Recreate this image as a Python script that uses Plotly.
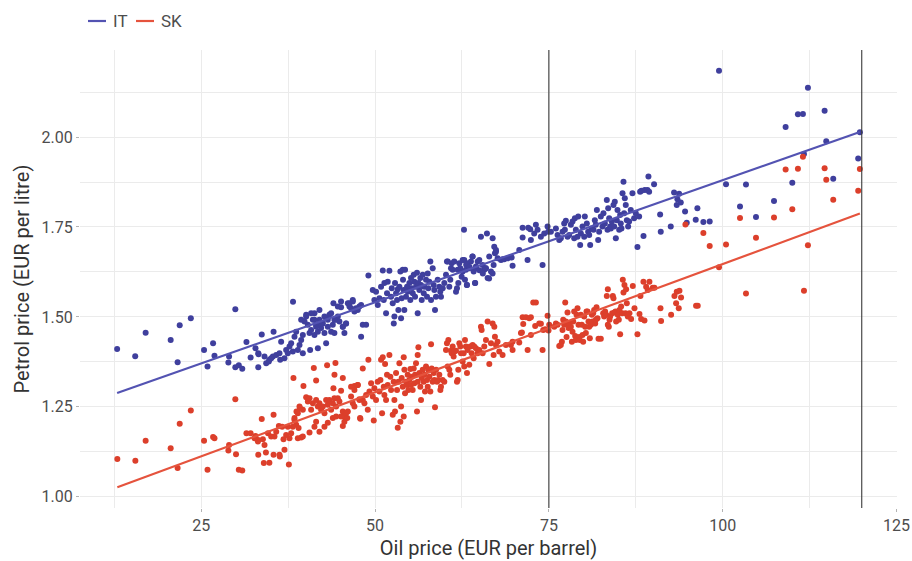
import numpy as np
import plotly.graph_objects as go

# Weekly observations: (oil price in EUR per barrel, petrol price in EUR per litre)
IT_POINTS = [
    (12.9, 1.411), (15.5, 1.391), (17.0, 1.456), (20.6, 1.436), (21.9, 1.477), (23.5, 1.496),
    (21.6, 1.374), (29.9, 1.521), (25.4, 1.408), (26.7, 1.427), (26.9, 1.392), (25.9, 1.362),
    (29.0, 1.390), (28.9, 1.373), (29.9, 1.360), (30.4, 1.366), (30.9, 1.356), (31.5, 1.430),
    (32.8, 1.413), (32.1, 1.387), (33.2, 1.360), (33.7, 1.451), (35.4, 1.459), (33.2, 1.399),
    (34.1, 1.390), (34.8, 1.381), (35.3, 1.390), (38.2, 1.542), (33.24, 1.396), (34.34, 1.371),
    (34.72, 1.376), (35.06, 1.385),
    (35.78, 1.394), (36.25, 1.399), (36.35, 1.381), (36.49, 1.431), (36.97, 1.385), (37.21, 1.408),
    (37.45, 1.399), (37.69, 1.418), (37.93, 1.427), (38.17, 1.404), (38.41, 1.445), (38.65, 1.459),
    (38.89, 1.408), (39.13, 1.422), (39.37, 1.436), (39.61, 1.450), (39.61, 1.399), (39.85, 1.487),
    (40.09, 1.506), (40.33, 1.478), (40.57, 1.455), (40.66, 1.408), (40.80, 1.464), (41.05, 1.492),
    (41.28, 1.510), (41.28, 1.450), (41.52, 1.478), (41.77, 1.413), (41.77, 1.459), (42.00, 1.492),
    (42.24, 1.469), (42.49, 1.482), (42.72, 1.455), (42.96, 1.427), (42.96, 1.496), (43.20, 1.473),
    (43.43, 1.506), (43.68, 1.459), (43.92, 1.478), (44.01, 1.538), (44.15, 1.455), (44.40, 1.492),
    (44.64, 1.501), (44.87, 1.487), (45.11, 1.527), (45.36, 1.473), (45.59, 1.455), (45.83, 1.482),
    (46.08, 1.538), (46.31, 1.529), (46.55, 1.524), (46.80, 1.543), (47.03, 1.515), (47.27, 1.524),
    (47.74, 1.529), (47.99, 1.445), (48.23, 1.478),
    (39.37, 1.492), (40.09, 1.501), (40.80, 1.510), (41.28, 1.492), (41.52, 1.473), (42.00, 1.519),
    (42.24, 1.482), (42.72, 1.501), (43.20, 1.492), (43.68, 1.510), (44.15, 1.492), (44.64, 1.529),
    (45.11, 1.543), (45.36, 1.473), (45.83, 1.482), (46.31, 1.538), (46.79, 1.547), (47.51, 1.519),
    (47.99, 1.533), (48.71, 1.478),
    (49.04, 1.615), (49.67, 1.575), (49.90, 1.547), (50.14, 1.570), (50.39, 1.533), (50.62, 1.552),
    (50.86, 1.584), (51.11, 1.629), (51.25, 1.547), (51.34, 1.594), (51.58, 1.510), (51.72, 1.566),
    (51.82, 1.598), (52.06, 1.628), (52.30, 1.556), (52.40, 1.580), (52.54, 1.538), (52.69, 1.482),
    (52.78, 1.501), (52.87, 1.594), (53.02, 1.566), (53.16, 1.547), (53.26, 1.577), (53.35, 1.519),
    (53.50, 1.584), (53.64, 1.626), (53.74, 1.496), (53.83, 1.552), (53.98, 1.631), (54.02, 1.603),
    (54.12, 1.575), (54.21, 1.519), (54.31, 1.631), (54.45, 1.556), (54.60, 1.584), (54.70, 1.570),
    (54.93, 1.594), (55.07, 1.547), (55.17, 1.608), (55.27, 1.580), (55.42, 1.566), (55.56, 1.617),
    (55.65, 1.598), (55.75, 1.556), (55.89, 1.584), (56.03, 1.623), (56.13, 1.510), (56.23, 1.594),
    (56.37, 1.575), (56.51, 1.608), (56.61, 1.589), (56.71, 1.547), (56.85, 1.617), (57.00, 1.566),
    (57.08, 1.584), (57.33, 1.603), (57.47, 1.556), (57.57, 1.621), (57.66, 1.580), (57.80, 1.598),
    (57.95, 1.654), (58.05, 1.547), (58.29, 1.635), (58.43, 1.589), (58.52, 1.575), (58.62, 1.519),
    (58.76, 1.556), (59.01, 1.603), (59.24, 1.584), (59.38, 1.570), (59.48, 1.556), (59.73, 1.580),
    (59.96, 1.594), (60.20, 1.617), (60.34, 1.654), (60.45, 1.654), (60.68, 1.584), (60.82, 1.603),
    (60.92, 1.635), (61.02, 1.649), (61.16, 1.631), (61.39, 1.654), (61.64, 1.570), (61.78, 1.580),
    (61.88, 1.631), (61.97, 1.594), (62.11, 1.649), (62.26, 1.635), (62.45, 1.612), (62.60, 1.626),
    (62.79, 1.742), (62.83, 1.658), (62.93, 1.603), (63.07, 1.631), (63.22, 1.589), (63.32, 1.649),
    (63.55, 1.635), (63.79, 1.654), (64.04, 1.668), (64.18, 1.626), (64.37, 1.594), (64.51, 1.640),
    (64.76, 1.654), (64.99, 1.658), (65.23, 1.723), (65.47, 1.644), (65.71, 1.631), (65.95, 1.635),
    (66.09, 1.732), (66.19, 1.608), (66.42, 1.668), (66.67, 1.626), (66.91, 1.719), (67.05, 1.644),
    (67.14, 1.695), (67.24, 1.677), (67.39, 1.681), (67.63, 1.663), (68.10, 1.658), (68.58, 1.660),
    (69.07, 1.663),
    (62.6, 1.658), (63.1, 1.645), (63.6, 1.639), (64.0, 1.668), (64.5, 1.635), (65.0, 1.630),
    (65.5, 1.621), (65.9, 1.635), (66.4, 1.607), (66.9, 1.621), (63.2, 1.589), (64.4, 1.594),
    (69.54, 1.666), (67.39, 1.686),
    (68.34, 1.660), (69.64, 1.665), (69.78, 1.642), (70.74, 1.686), (71.22, 1.721), (71.22, 1.748),
    (71.93, 1.658), (72.03, 1.748), (72.32, 1.744), (72.41, 1.714), (72.89, 1.732), (73.13, 1.756),
    (73.37, 1.742), (73.85, 1.723), (74.09, 1.644), (74.33, 1.732), (74.81, 1.751), (74.90, 1.737),
    (75.29, 1.737), (76.01, 1.746), (76.25, 1.728), (76.49, 1.714), (76.72, 1.719), (76.97, 1.737),
    (77.20, 1.760), (77.30, 1.742), (77.44, 1.767), (77.69, 1.723), (77.92, 1.728), (78.16, 1.756),
    (78.40, 1.765), (78.64, 1.719), (78.74, 1.774), (78.88, 1.742), (79.12, 1.723), (79.22, 1.779),
    (79.50, 1.700), (79.60, 1.732), (79.84, 1.751), (80.08, 1.723), (80.17, 1.779), (80.46, 1.760),
    (80.65, 1.737), (80.80, 1.728), (80.94, 1.700), (81.13, 1.746), (81.42, 1.742), (81.61, 1.769),
    (81.75, 1.756), (81.90, 1.797), (82.09, 1.714), (82.23, 1.737), (82.47, 1.779), (82.71, 1.751),
    (82.85, 1.788), (83.05, 1.760), (83.33, 1.825), (83.43, 1.742), (83.53, 1.802), (83.67, 1.774),
    (83.81, 1.751), (83.91, 1.746), (84.05, 1.765), (84.29, 1.811), (84.39, 1.751), (84.48, 1.820),
    (84.63, 1.719), (84.77, 1.769), (84.87, 1.797), (85.11, 1.742), (85.25, 1.783), (85.34, 1.760),
    (85.44, 1.746), (85.59, 1.844), (85.73, 1.876), (85.82, 1.788), (85.92, 1.830), (86.06, 1.811),
    (86.21, 1.769), (86.40, 1.751), (86.54, 1.765), (86.78, 1.797), (87.02, 1.844), (87.26, 1.774),
    (87.50, 1.788), (87.74, 1.694), (87.98, 1.779), (88.12, 1.848), (88.31, 1.851), (88.61, 1.725),
    (88.79, 1.853), (89.18, 1.853), (89.32, 1.890), (89.42, 1.848), (90.13, 1.869), (91.00, 1.785),
    (91.09, 1.737), (92.53, 1.751), (93.01, 1.846), (93.39, 1.811), (93.49, 1.827), (93.73, 1.842),
    (93.97, 1.818), (94.59, 1.793), (94.83, 1.762), (96.36, 1.802),
    (99.47, 2.184), (112.26, 2.137), (110.82, 2.063), (111.54, 2.064), (114.66, 2.073), (109.05, 2.028),
    (114.90, 1.988), (111.69, 1.953), (119.73, 2.013), (119.49, 1.940), (115.90, 1.884), (110.01, 1.873),
    (107.38, 1.822), (103.35, 1.868), (100.48, 1.869), (102.49, 1.807), (104.79, 1.778), (96.12, 1.770),
    (97.22, 1.764), (98.13, 1.765),
]

SK_POINTS = [
    (12.93, 1.105), (15.52, 1.100), (17.0, 1.156), (20.6, 1.135), (21.9, 1.203), (23.5, 1.240),
    (21.6, 1.080), (29.9, 1.271), (25.4, 1.156), (26.7, 1.166), (26.9, 1.163), (25.9, 1.075),
    (29.0, 1.144), (28.9, 1.129), (30.0, 1.118), (30.4, 1.075), (30.9, 1.073), (31.5, 1.177),
    (32.1, 1.177), (32.8, 1.169), (33.2, 1.117), (33.7, 1.216), (35.4, 1.228), (33.2, 1.158),
    (34.1, 1.144), (34.6, 1.177), (35.06, 1.168), (35.4, 1.117), (34.3, 1.123), (34.0, 1.094),
    (34.8, 1.095), (33.15, 1.154), (33.86, 1.160), (32.67, 1.163),
    (38.26, 1.330), (39.70, 1.308), (41.19, 1.358), (41.52, 1.323), (43.10, 1.366), (44.30, 1.372),
    (44.16, 1.339), (45.36, 1.330), (44.01, 1.302), (45.11, 1.295), (47.03, 1.308), (47.51, 1.311),
    (40.09, 1.277), (40.33, 1.265), (40.57, 1.274), (39.13, 1.251), (39.61, 1.242), (40.80, 1.242),
    (41.05, 1.260), (41.52, 1.269), (41.77, 1.251), (42.00, 1.260), (42.24, 1.242), (42.49, 1.251),
    (42.72, 1.232), (42.96, 1.269), (43.20, 1.256), (43.43, 1.269), (43.68, 1.242), (43.92, 1.260),
    (44.15, 1.274), (44.40, 1.251), (44.64, 1.274), (44.87, 1.265), (45.36, 1.237), (45.59, 1.223),
    (45.83, 1.232), (46.55, 1.279), (46.80, 1.260), (47.74, 1.271), (47.84, 1.219), (38.89, 1.232),
    (38.65, 1.200), (38.41, 1.219), (38.17, 1.195), (37.93, 1.177), (37.69, 1.163), (37.21, 1.172),
    (36.83, 1.160), (37.45, 1.195), (36.64, 1.195), (36.16, 1.197), (35.78, 1.181), (35.53, 1.168),
    (36.25, 1.117), (36.97, 1.131), (37.60, 1.090), (38.89, 1.163), (39.37, 1.165), (39.61, 1.168),
    (40.57, 1.179), (41.28, 1.195), (41.52, 1.209), (42.00, 1.181), (42.72, 1.195), (43.20, 1.206),
    (43.92, 1.219), (44.40, 1.223), (45.36, 1.197), (45.59, 1.209), (45.11, 1.223), (46.00, 1.219),
    (46.08, 1.237), (47.03, 1.251), (48.23, 1.269), (39.2, 1.246), (38.7, 1.237), (38.4, 1.214),
    (39.0, 1.191), (36.3, 1.112),
    (46.55, 1.306), (47.03, 1.297), (47.51, 1.311), (47.75, 1.269), (47.89, 1.217), (48.23, 1.357),
    (48.47, 1.260), (48.71, 1.283), (48.95, 1.242), (49.04, 1.381), (49.19, 1.293), (49.43, 1.316),
    (49.67, 1.279), (49.81, 1.212), (49.90, 1.302), (50.14, 1.269), (50.38, 1.320), (50.62, 1.293),
    (50.77, 1.325), (50.86, 1.381), (51.01, 1.232), (51.10, 1.388), (51.25, 1.306), (51.34, 1.283),
    (51.44, 1.369), (51.58, 1.269), (51.72, 1.339), (51.82, 1.311), (52.06, 1.394), (52.20, 1.334),
    (52.30, 1.297), (52.54, 1.228), (52.68, 1.320), (52.78, 1.269), (52.87, 1.237), (53.02, 1.344),
    (53.16, 1.297), (53.26, 1.192), (53.35, 1.320), (53.50, 1.371), (53.64, 1.209), (53.74, 1.251),
    (53.83, 1.330), (53.98, 1.306), (54.12, 1.223), (54.12, 1.388), (54.22, 1.353), (54.31, 1.288),
    (54.45, 1.320), (54.60, 1.311), (54.69, 1.339), (54.79, 1.297), (54.93, 1.325), (55.08, 1.355),
    (55.17, 1.311), (55.27, 1.334), (55.41, 1.297), (55.56, 1.357), (55.65, 1.316), (55.75, 1.339),
    (55.89, 1.371), (56.03, 1.237), (56.13, 1.320), (56.13, 1.394), (56.23, 1.416), (56.37, 1.344),
    (56.51, 1.306), (56.61, 1.269), (56.70, 1.330), (56.85, 1.353), (56.99, 1.320), (57.09, 1.339),
    (57.18, 1.293), (57.33, 1.362), (57.47, 1.325), (57.57, 1.306), (57.66, 1.353), (57.81, 1.334),
    (57.95, 1.293), (58.05, 1.424), (58.14, 1.357), (58.29, 1.320), (58.43, 1.344), (58.53, 1.325),
    (58.62, 1.249), (58.77, 1.353), (58.91, 1.320), (59.10, 1.325), (59.24, 1.339), (59.39, 1.297),
    (59.48, 1.306), (59.72, 1.325), (59.96, 1.320), (60.20, 1.408), (60.34, 1.427), (60.44, 1.362),
    (60.54, 1.436), (60.68, 1.353), (60.82, 1.339), (60.92, 1.406), (61.02, 1.399), (61.16, 1.418),
    (61.30, 1.390), (61.40, 1.404), (61.64, 1.406), (61.78, 1.320), (61.88, 1.325), (61.97, 1.353),
    (62.12, 1.427), (62.26, 1.418), (62.36, 1.399), (62.60, 1.376), (62.74, 1.399), (62.83, 1.362),
    (62.93, 1.436), (63.07, 1.418), (63.22, 1.344), (63.31, 1.408), (63.55, 1.367), (63.70, 1.418),
    (63.89, 1.399), (64.03, 1.422), (64.18, 1.385), (64.27, 1.418), (64.51, 1.413), (64.75, 1.399),
    (64.99, 1.408), (65.23, 1.473), (65.33, 1.464), (65.47, 1.399), (65.71, 1.418), (65.95, 1.436),
    (66.19, 1.487), (66.43, 1.369), (66.67, 1.427), (66.91, 1.482), (67.05, 1.394), (67.15, 1.473),
    (67.24, 1.445), (67.39, 1.422), (67.62, 1.431), (67.86, 1.404), (68.34, 1.394), (69.78, 1.408),
    (69.78, 1.431), (70.98, 1.455),
    (68.82, 1.422), (69.54, 1.422), (70.74, 1.429), (71.12, 1.457), (71.31, 1.480), (71.22, 1.499),
    (71.70, 1.499), (71.94, 1.408), (72.18, 1.496), (72.41, 1.499), (72.41, 1.450), (72.75, 1.540),
    (73.13, 1.540), (73.03, 1.475), (73.61, 1.482), (73.85, 1.481), (74.09, 1.408), (74.18, 1.464),
    (74.47, 1.466), (74.81, 1.503), (74.95, 1.462), (75.05, 1.478), (75.77, 1.473), (76.01, 1.482),
    (76.25, 1.478), (76.49, 1.419), (76.72, 1.422), (76.87, 1.431), (76.96, 1.464), (77.06, 1.492),
    (77.20, 1.478), (77.35, 1.540), (77.44, 1.487), (77.54, 1.444), (77.68, 1.512), (77.83, 1.469),
    (77.92, 1.482), (78.16, 1.473), (78.31, 1.431), (78.40, 1.459), (78.50, 1.487), (78.64, 1.515),
    (78.78, 1.447), (78.88, 1.436), (78.98, 1.506), (79.12, 1.524), (79.26, 1.478), (79.36, 1.444),
    (79.45, 1.436), (79.60, 1.506), (79.74, 1.478), (79.84, 1.450), (79.93, 1.431), (80.08, 1.501),
    (80.22, 1.473), (80.32, 1.455), (80.41, 1.515), (80.56, 1.515), (80.70, 1.487), (80.80, 1.473),
    (80.89, 1.441), (81.04, 1.478), (81.18, 1.506), (81.28, 1.487), (81.37, 1.510), (81.51, 1.519),
    (81.66, 1.482), (81.75, 1.492), (81.85, 1.527), (81.99, 1.496), (82.14, 1.439), (82.47, 1.439),
    (82.81, 1.510), (82.95, 1.501), (83.09, 1.515), (83.24, 1.506), (83.33, 1.558), (83.48, 1.577),
    (83.48, 1.478), (83.62, 1.473), (83.72, 1.492), (83.81, 1.501), (84.10, 1.510), (84.20, 1.558),
    (84.29, 1.552), (84.43, 1.512), (84.58, 1.515), (84.67, 1.487), (84.91, 1.506), (85.06, 1.492),
    (85.15, 1.519), (85.25, 1.452), (85.39, 1.529), (85.54, 1.510), (85.63, 1.603), (85.73, 1.568),
    (85.87, 1.589), (86.02, 1.510), (86.11, 1.577), (86.21, 1.538), (86.35, 1.501), (86.59, 1.510),
    (86.83, 1.494), (87.07, 1.586), (87.31, 1.524), (87.74, 1.452), (88.03, 1.508), (88.17, 1.558),
    (88.27, 1.494), (88.60, 1.598), (88.75, 1.490), (88.99, 1.584), (89.22, 1.575), (89.46, 1.598),
    (89.94, 1.581), (90.18, 1.581), (91.05, 1.524), (91.14, 1.489), (92.58, 1.506), (93.06, 1.558),
    (93.39, 1.570), (93.78, 1.573), (93.30, 1.538), (93.68, 1.524), (94.01, 1.554), (96.17, 1.531),
    (96.41, 1.531),
    (111.54, 1.945), (109.05, 1.910), (110.82, 1.912), (114.66, 1.913), (114.90, 1.881), (119.73, 1.911),
    (119.49, 1.851), (115.90, 1.826), (110.01, 1.799), (107.38, 1.776), (102.49, 1.775), (104.79, 1.720),
    (100.48, 1.701), (112.26, 1.699), (98.13, 1.697), (97.22, 1.733), (94.64, 1.757), (99.47, 1.638),
    (103.35, 1.565), (111.69, 1.573),
]

COUNTRIES = ["IT", "SK"]
POINT_COLORS = {"IT": "#3f3f9d", "SK": "#dc3f2b"}
LINE_COLORS = {"IT": "#5353b2", "SK": "#e5533d"}
X_TICKS = [25, 50, 75, 100, 125]
X_MINOR = [12.5, 37.5, 62.5, 87.5, 112.5]
Y_TICKS = [1.00, 1.25, 1.50, 1.75, 2.00]
Y_MINOR = [1.125, 1.375, 1.625, 1.875, 2.125]
MARKED_OIL_PRICES = [75, 120]

series = {"IT": IT_POINTS, "SK": SK_POINTS}

FONT = "Roboto, Liberation Sans, sans-serif"
TEXT_COLOR = "#4d4d4d"
GRID = "#ebebeb"

# plot area in pixels (figure is 912 x 561)
M_LEFT, M_RIGHT, M_TOP, M_BOTTOM = 80, 15, 50, 53
PLOT_W = 912 - M_LEFT - M_RIGHT
PLOT_H = 561 - M_TOP - M_BOTTOM

fig = go.Figure()
all_x, all_y = [], []

for name in COUNTRIES:
    oil = np.array([p[0] for p in series[name]])
    petrol = np.array([p[1] for p in series[name]])
    fig.add_trace(go.Scatter(
        x=oil, y=petrol, mode="markers", showlegend=False, name=name,
        marker=dict(size=6, color=POINT_COLORS[name], line=dict(width=0)),
        hoverinfo="skip",
    ))
    # straight least-squares fit across the observed oil price range
    slope, intercept = np.polyfit(oil, petrol, 1)
    fit_x = np.array([oil.min(), oil.max()])
    fit_y = intercept + slope * fit_x
    fig.add_trace(go.Scatter(
        x=fit_x, y=fit_y, mode="lines", name=name, showlegend=False,
        line=dict(color=LINE_COLORS[name], width=2.2),
    ))
    all_x += list(oil) + list(fit_x)
    all_y += list(petrol) + list(fit_y)


def expanded(values, frac=0.05):
    lo, hi = min(values), max(values)
    pad = (hi - lo) * frac
    return [lo - pad, hi + pad]


x_range = expanded(all_x)
y_range = expanded(all_y)

for price in MARKED_OIL_PRICES:
    fig.add_vline(x=price, line_color="#3a3a3a", line_width=1.1, layer="above")

# compact legend row above the panel: short key line followed by the label
def px_to_paper_x(px):
    return (px - M_LEFT) / PLOT_W


def px_to_paper_y(py):
    return (561 - M_BOTTOM - py) / PLOT_H


legend_y = px_to_paper_y(21)
key_start = 88
for name in COUNTRIES:
    fig.add_shape(type="line", xref="paper", yref="paper",
                  x0=px_to_paper_x(key_start), x1=px_to_paper_x(key_start + 18),
                  y0=legend_y, y1=legend_y,
                  line=dict(color=LINE_COLORS[name], width=2.2))
    fig.add_annotation(text=name, xref="paper", yref="paper",
                       x=px_to_paper_x(key_start + 23), y=legend_y,
                       xanchor="left", yanchor="middle", showarrow=False,
                       font=dict(size=17, color=TEXT_COLOR, family=FONT))
    key_start += 48

fig.update_xaxes(
    range=x_range, tickvals=X_TICKS, showgrid=True, gridcolor=GRID, gridwidth=1,
    zeroline=False, showline=False, ticks="outside", ticklen=3, tickcolor="#b3b3b3",
    tickfont=dict(size=16, color=TEXT_COLOR, family=FONT), automargin=False,
    minor=dict(tickvals=X_MINOR, showgrid=True, gridcolor=GRID, gridwidth=0.8),
    title=dict(text="Oil price (EUR per barrel)", font=dict(size=20, color="#333333", family=FONT), standoff=6),
)
fig.update_yaxes(
    range=y_range, tickvals=Y_TICKS, tickformat=".2f", showgrid=True, gridcolor=GRID, gridwidth=1,
    zeroline=False, showline=False, ticks="outside", ticklen=3, tickcolor="#b3b3b3",
    tickfont=dict(size=16, color=TEXT_COLOR, family=FONT), automargin=False,
    minor=dict(tickvals=Y_MINOR, showgrid=True, gridcolor=GRID, gridwidth=0.8),
    title=dict(text="Petrol price (EUR per litre)", font=dict(size=20, color="#333333", family=FONT), standoff=6),
)

fig.update_layout(
    width=912, height=561,
    margin=dict(l=M_LEFT, r=M_RIGHT, t=M_TOP, b=M_BOTTOM),
    plot_bgcolor="white", paper_bgcolor="white",
    font=dict(family=FONT, color=TEXT_COLOR),
    showlegend=False,
)

fig.write_html("out.html")
